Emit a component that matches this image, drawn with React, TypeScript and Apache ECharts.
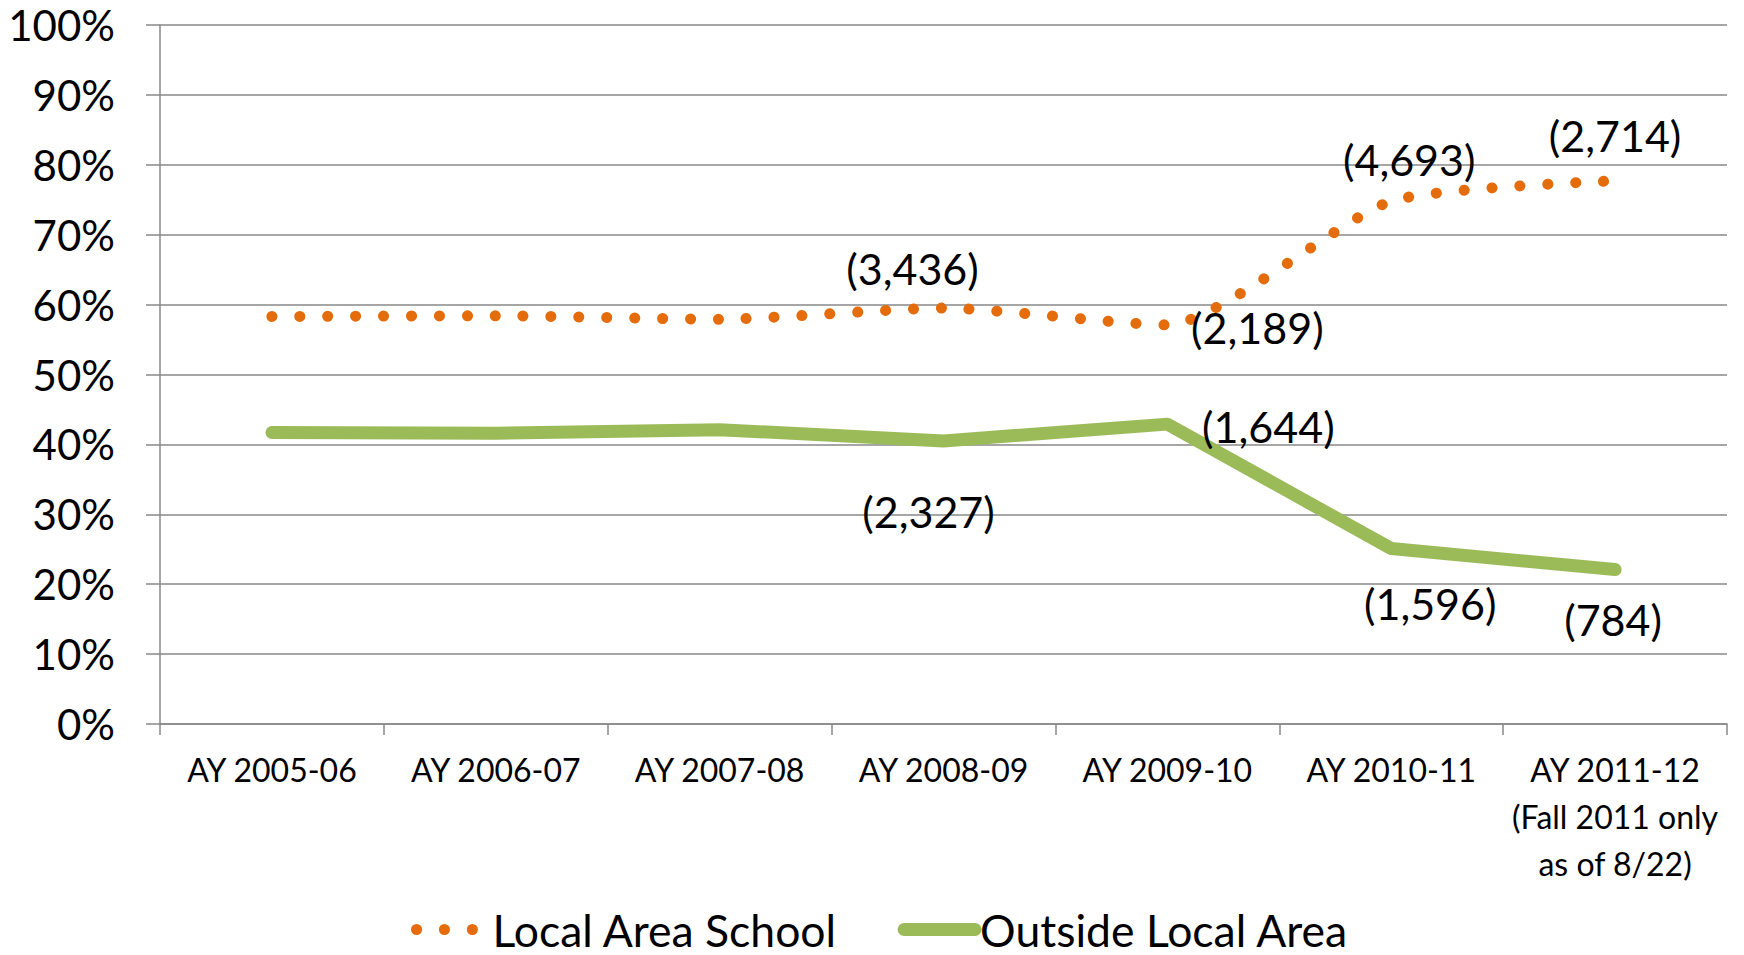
import React, { useEffect, useRef } from "react";
import * as echarts from "echarts";

const categories = [
  "AY 2005-06",
  "AY 2006-07",
  "AY 2007-08",
  "AY 2008-09",
  "AY 2009-10",
  "AY 2010-11",
  "AY 2011-12\n(Fall 2011 only\nas of 8/22)",
];
const localAreaSchool = [58.3, 58.4, 57.9, 59.5, 57.1, 74.8, 77.7];
const outsideLocalArea = [41.7, 41.6, 42.1, 40.5, 42.9, 25.1, 22.1];
const localCounts = [null, null, null, "(3,436)", "(2,189)", "(4,693)", "(2,714)"];
const outsideCounts = [null, null, null, "(2,327)", "(1,644)", "(1,596)", "(784)"];
const legendNames = ["Local Area School", "Outside Local Area"];
const yTicks = { min: 0, max: 100, interval: 10 };

// label offsets (layout only)
const localOffsets: number[][] = [[0, 0], [0, 0], [0, 0], [-31, -40], [90, 3], [18, -42], [0, -45]];
const outsideOffsets: number[][] = [[0, 0], [0, 0], [0, 0], [-15, 71], [101, 2], [39, 55], [-2, 50]];

const FONT = "Lato, 'Open Sans', sans-serif";
const ORANGE = "#E46C0A";
const GREEN = "#9BBB59";
const GRAY = "#888888";
const DOTS = [0.1, 27.8];

function buildData(values: number[], counts: (string | null)[], offsets: number[][]) {
  return values.map((v, i) => {
    const c = counts[i];
    if (!c) return v;
    return {
      value: v,
      symbol: "circle",
      symbolSize: 0.1,
      label: {
        show: true,
        position: "inside",
        offset: offsets[i],
        formatter: c,
        color: "#000",
        fontSize: 43,
        fontFamily: FONT,
      },
    };
  });
}

export default function App() {
  const ref = useRef<HTMLDivElement>(null);
  useEffect(() => {
    if (!ref.current) return;
    const chart = echarts.init(ref.current, undefined, { renderer: "svg" });
    chart.setOption({
      animation: false,
      backgroundColor: "#ffffff",
      textStyle: { fontFamily: FONT },
      grid: { left: 160, right: 17, top: 25, bottom: 231, containLabel: false },
      legend: {
        left: 406,
        top: 902,
        itemWidth: 71,
        itemHeight: 14,
        itemGap: 60,
        textStyle: { fontSize: 44.5, fontFamily: FONT, color: "#000" },
        itemStyle: { opacity: 0 },
        data: [
          {
            name: legendNames[0],
            lineStyle: { color: ORANGE, width: 11, type: DOTS, cap: "round" },
          },
          {
            name: legendNames[1],
            lineStyle: { color: GREEN, width: 13, cap: "round" },
          },
        ],
      },
      xAxis: {
        type: "category",
        data: categories,
        boundaryGap: true,
        axisLine: { show: true, lineStyle: { color: GRAY, width: 1.5 } },
        axisTick: { show: true, length: 11, alignWithLabel: false, lineStyle: { color: GRAY, width: 1.5 } },
        axisLabel: {
          interval: 0,
          fontSize: 32,
          lineHeight: 47,
          margin: 22,
          color: "#000",
          fontFamily: FONT,
          align: "center",
        },
      },
      yAxis: {
        type: "value",
        min: yTicks.min,
        max: yTicks.max,
        interval: yTicks.interval,
        axisLine: { show: true, lineStyle: { color: GRAY, width: 1.5 } },
        axisTick: { show: true, length: 14, lineStyle: { color: GRAY, width: 1.5 } },
        splitLine: { show: true, lineStyle: { color: GRAY, width: 1.5 } },
        axisLabel: {
          formatter: "{value}%",
          fontSize: 42,
          margin: 45,
          color: "#000",
          fontFamily: FONT,
        },
      },
      series: [
        {
          name: legendNames[0],
          type: "line",
          smooth: 0.2,
          symbol: "none",
          data: buildData(localAreaSchool, localCounts, localOffsets),
          itemStyle: { color: ORANGE },
          lineStyle: { color: ORANGE, width: 11, type: DOTS, cap: "round" },
          z: 3,
        },
        {
          name: legendNames[1],
          type: "line",
          smooth: false,
          symbol: "none",
          data: buildData(outsideLocalArea, outsideCounts, outsideOffsets),
          itemStyle: { color: GREEN },
          lineStyle: { color: GREEN, width: 13, cap: "round", join: "round" },
          z: 2,
        },
      ],
    });
    return () => chart.dispose();
  }, []);
  return (
    <div
      ref={ref}
      style={{ position: "fixed", left: 0, top: 0, width: 1744, height: 955, background: "#fff" }}
    />
  );
}
